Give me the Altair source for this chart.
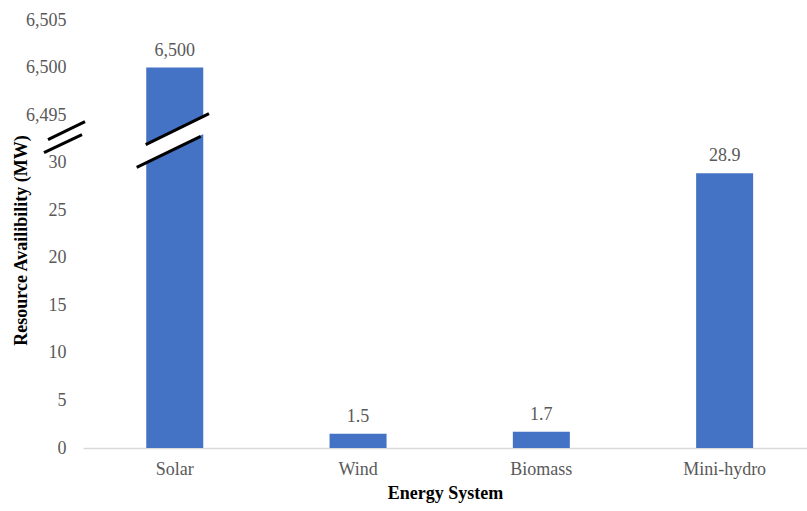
import altair as alt
import pandas as pd

categories = ["Solar", "Wind", "Biomass", "Mini-hydro"]
values = [6500, 1.5, 1.7, 28.9]
value_labels = ["6,500", "1.5", "1.7", "28.9"]
tick_values = [0, 5, 10, 15, 20, 25, 30, 35, 40, 45]

BREAK_LOW = 30
BREAK_SHIFT = 6460  # value 6495 sits one tick above 30 on the broken axis


def to_axis(v):
    return v - BREAK_SHIFT if v > BREAK_LOW else v


df = pd.DataFrame({
    "category": categories,
    "value": values,
    "pos": [to_axis(v) for v in values],
    "label": value_labels,
})

FONT = "Liberation Serif"
GREY = "#595959"
BLUE = "#4472C4"

x_enc = alt.X(
    "category:N",
    sort=categories,
    scale=alt.Scale(paddingInner=0.69, paddingOuter=0.32, align=0.54),
    axis=alt.Axis(
        title="Energy System", labelAngle=0, ticks=False,
        domainColor="#D9D9D9", domainWidth=1.5,
        labelFont=FONT, labelFontSize=18, labelColor=GREY, labelPadding=12,
        titleFont=FONT, titleFontSize=18, titleFontWeight="bold",
        titleColor="#000000", titlePadding=6,
    ),
)
y_enc = alt.Y(
    "pos:Q",
    scale=alt.Scale(domain=[0, 45], nice=False),
    axis=alt.Axis(
        title="Resource Availibility (MW)", values=tick_values, grid=False,
        domain=False, ticks=False,
        labelExpr="datum.value > 30 ? format(datum.value + 6460, ',') : format(datum.value, 'd')",
        labelFont=FONT, labelFontSize=18, labelColor=GREY, labelPadding=17,
        titleFont=FONT, titleFontSize=18, titleFontWeight="bold",
        titleColor="#000000", titleX=-53, titleY=220,
    ),
)

base = alt.Chart(df)
bars = base.mark_bar(color=BLUE, size=57).encode(x=x_enc, y=y_enc)
text = base.mark_text(
    baseline="bottom", dy=-8, font=FONT, fontSize=18, color=GREY
).encode(x=alt.X("category:N", sort=categories), y="pos:Q", text="label:N")

dummy = alt.Chart(pd.DataFrame({"d": [0]}))

gap = dummy.mark_rule(color="white", strokeWidth=15, strokeCap="butt").encode(
    x=alt.value(57), x2=alt.value(126), y=alt.YDatum(30.64), y2=alt.datum(34.18)
)
bar_up = dummy.mark_rule(color="black", strokeWidth=3).encode(
    x=alt.value(62.7), x2=alt.value(126), y=alt.YDatum(31.89), y2=alt.datum(35.16)
)
bar_lo = dummy.mark_rule(color="black", strokeWidth=3).encode(
    x=alt.value(53.7), x2=alt.value(117.7), y=alt.YDatum(29.51), y2=alt.datum(32.77)
)
ax_up = dummy.mark_rule(color="black", strokeWidth=3).encode(
    x=alt.value(-35), x2=alt.value(2), y=alt.YDatum(32.42), y2=alt.datum(34.32)
)
ax_lo = dummy.mark_rule(color="black", strokeWidth=3).encode(
    x=alt.value(-39), x2=alt.value(-1), y=alt.YDatum(31.05), y2=alt.datum(32.95)
)

chart = alt.layer(bars, text, gap, bar_up, bar_lo, ax_up, ax_lo).properties(
    width=724, height=428,
    autosize=alt.AutoSizeParams(type="none"),
    padding={"left": 83, "top": 20, "right": 0, "bottom": 63},
    background="white",
).configure_view(stroke=None)

chart.save("out.html", embed_options={"renderer": "svg", "actions": False})
